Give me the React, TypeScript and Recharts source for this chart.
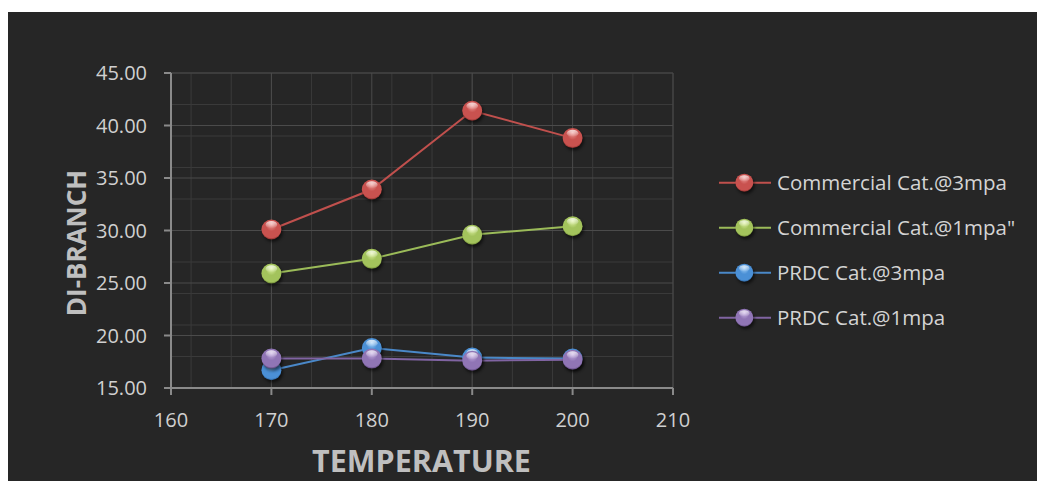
import React from 'react';
import { LineChart, Line, XAxis, YAxis, CartesianGrid } from 'recharts';

// temperature (x) and DI-branch values for each catalyst / pressure
const temperatures = [170, 180, 190, 200];
const commercial3mpa = [30.1, 33.9, 41.4, 38.8];
const commercial1mpa = [25.9, 27.3, 29.6, 30.4];
const prdc3mpa = [16.7, 18.8, 17.9, 17.8];
const prdc1mpa = [17.8, 17.8, 17.6, 17.7];

const xTicks = [160, 170, 180, 190, 200, 210];
const yTicks = [15, 20, 25, 30, 35, 40, 45];

const FONT = '"Open Sans", sans-serif';

const series = [
  { key: 'c3', name: 'Commercial Cat.@3mpa', values: commercial3mpa, line: '#c0504d', light: '#f0a09d', base: '#c9524f', dark: '#6e1f1d' },
  { key: 'c1', name: 'Commercial Cat.@1mpa"', values: commercial1mpa, line: '#9bbb59', light: '#e2f5a8', base: '#a3c35c', dark: '#566e22' },
  { key: 'p3', name: 'PRDC Cat.@3mpa', values: prdc3mpa, line: '#4a88c8', light: '#a8d4fa', base: '#4b90d6', dark: '#1d4d80' },
  { key: 'p1', name: 'PRDC Cat.@1mpa', values: prdc1mpa, line: '#8064a2', light: '#cbb5e6', base: '#9075b5', dark: '#45305f' },
];

const data = temperatures.map((t, i) => {
  const row: Record<string, number> = { t };
  series.forEach((s) => { row[s.key] = s.values[i]; });
  return row;
});

const range = (from: number, to: number, step: number) => {
  const out: number[] = [];
  for (let v = from; v <= to + 1e-9; v += step) out.push(v);
  return out;
};
const minorX = range(160, 210, 2);
const minorY = range(15, 45, 1);

const BallDefs = ({ prefix }: { prefix: string }) => (
  <defs>
    {series.map((s) => (
      <radialGradient key={s.key} id={`${prefix}-${s.key}`} cx="50%" cy="45%" r="58%" fx="50%" fy="22%">
        <stop offset="0%" stopColor={s.light} />
        <stop offset="45%" stopColor={s.base} />
        <stop offset="85%" stopColor={s.base} />
        <stop offset="100%" stopColor={s.dark} />
      </radialGradient>
    ))}
    <linearGradient id={`${prefix}-hl`} x1="0" y1="0" x2="0" y2="1">
      <stop offset="0%" stopColor="#fff" stopOpacity={0.75} />
      <stop offset="100%" stopColor="#fff" stopOpacity={0} />
    </linearGradient>
    <filter id={`${prefix}-shadow`} x="-50%" y="-50%" width="200%" height="200%">
      <feGaussianBlur stdDeviation="1.6" />
    </filter>
  </defs>
);

const Ball = ({ cx, cy, r, prefix, k }: { cx: number; cy: number; r: number; prefix: string; k: string }) => (
  <g>
    <circle cx={cx + 1.5} cy={cy + 2.5} r={r} fill="#000" opacity={0.55} filter={`url(#${prefix}-shadow)`} />
    <circle cx={cx} cy={cy} r={r} fill={`url(#${prefix}-${k})`} />
    <ellipse cx={cx} cy={cy - r * 0.48} rx={r * 0.58} ry={r * 0.36} fill={`url(#${prefix}-hl)`} />
  </g>
);

const LegendBox = () => (
  <svg width={329} height={200} style={{ position: 'absolute', left: 700, top: 140 }}>
    <BallDefs prefix="lg" />
    {series.map((s, i) => {
      const y = 30.7 + i * 45;
      return (
        <g key={s.key}>
          <line x1={11} x2={63} y1={y} y2={y} stroke={s.line} strokeWidth={2} />
          <Ball cx={36.3} cy={y} r={9} prefix="lg" k={s.key} />
          <text x={69} y={y + 7.5} fill="#d4d4d4" fontFamily={FONT} fontSize={20.5}>
            {s.name}
          </text>
        </g>
      );
    })}
  </svg>
);

export default function App() {
  return (
    <div style={{ position: 'absolute', left: 8, top: 12, width: 1029, height: 469, background: '#262626', overflow: 'hidden' }}>
      <LineChart width={1029} height={469} data={data} margin={{ top: 61, right: 364, bottom: 53, left: 83 }}>
        <BallDefs prefix="pt" />
        <CartesianGrid stroke="#3a3a3a" strokeWidth={1} horizontalValues={minorY} verticalValues={minorX} />
        <CartesianGrid stroke="#4b4b4b" strokeWidth={1} horizontalValues={yTicks} verticalValues={xTicks} />
        <XAxis
          dataKey="t"
          type="number"
          domain={[160, 210]}
          ticks={xTicks}
          height={40}
          stroke="#8a8a8a"
          strokeWidth={2}
          tickSize={7}
          tickMargin={18}
          tick={{ fill: '#d0d0d0', fontSize: 20, fontFamily: FONT }}
        />
        <YAxis
          type="number"
          domain={[15, 45]}
          ticks={yTicks}
          width={80}
          stroke="#8a8a8a"
          strokeWidth={2}
          tickSize={7}
          tickMargin={17}
          tickFormatter={(v: number) => v.toFixed(2)}
          tick={{ fill: '#d0d0d0', fontSize: 20, fontFamily: FONT }}
        />
        {series.map((s) => (
          <Line
            key={s.key}
            dataKey={s.key}
            name={s.name}
            type="linear"
            stroke={s.line}
            strokeWidth={2}
            isAnimationActive={false}
            activeDot={false}
            dot={(p: any) => <Ball key={`${s.key}-${p.index}`} cx={p.cx} cy={p.cy} r={10} prefix="pt" k={s.key} />}
          />
        ))}
      </LineChart>
      <svg width={1029} height={469} style={{ position: 'absolute', left: 0, top: 0, pointerEvents: 'none' }}>
        <text
          x={0}
          y={0}
          transform="translate(68.5 231) rotate(-90)"
          textAnchor="middle"
          dy={9.3}
          fill="#bfbfbf"
          fontFamily={FONT}
          fontWeight={700}
          fontSize={26}
        >
          DI-BRANCH
        </text>
        <text x={413.5} y={460} textAnchor="middle" fill="#bfbfbf" fontFamily={FONT} fontWeight={700} fontSize={30.5}>
          TEMPERATURE
        </text>
      </svg>
      <LegendBox />
    </div>
  );
}
